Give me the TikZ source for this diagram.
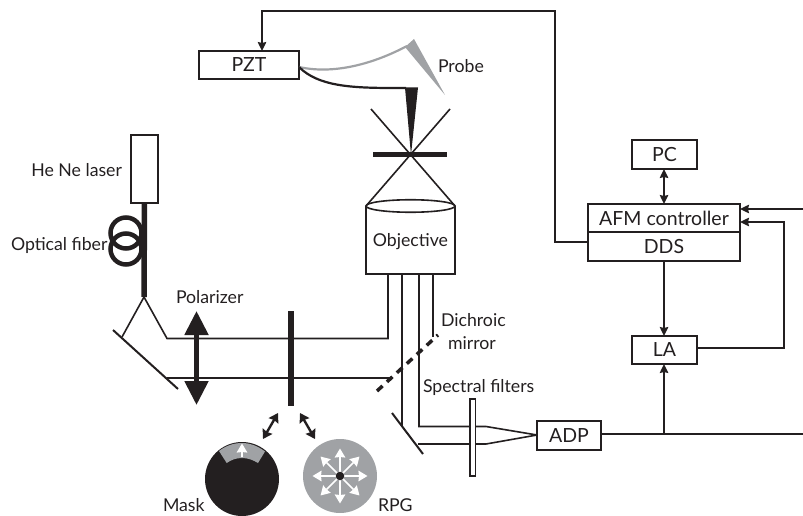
\documentclass[tikz,border=0pt]{standalone}
\usepackage{fontspec}
\setmainfont{Lato}
\usetikzlibrary{arrows.meta,calc,shapes.geometric}
\definecolor{ink}{HTML}{231F20}
\definecolor{midgray}{HTML}{A0A2A5}
\tikzset{
  boxnode/.style={draw=ink,line width=1.6pt,fill=white,inner sep=0pt,outer sep=0pt,text=ink,font=\fontsize{19.5}{22}\selectfont},
  lbl/.style={inner sep=0pt,outer sep=0pt,text=ink,font=\fontsize{17.7}{20}\selectfont},
  wire/.style={draw=ink,line width=1.6pt},
  sig/.style={wire,-{Stealth[length=9pt,width=8.5pt,inset=1pt]}},
  sigboth/.style={wire,{Stealth[length=9pt,width=8.5pt,inset=1pt]}-{Stealth[length=9pt,width=8.5pt,inset=1pt]}},
  dbl/.style={draw=ink,line width=2.4pt,{Stealth[length=9pt,width=11pt,inset=1pt]}-{Stealth[length=9pt,width=11pt,inset=1pt]}},
  wht/.style={draw=white,line width=1.5pt,-{Stealth[length=9pt,width=10.5pt,inset=0.5pt]}},
  thickbar/.style={draw=ink,line width=5.5pt}
}
\begin{document}
\begin{tikzpicture}[x=1pt,y=-1pt]
\useasboundingbox (0,0) rectangle (803,516);
% optical fibre behind laser
\coordinate (fiberend) at (144,297);
% boxes
\node[boxnode,minimum width=27pt,minimum height=68pt] (laser) at (144.5,169) {};
\node[boxnode,minimum width=100pt,minimum height=28pt] (pzt) at (249,65) {PZT};
\node[boxnode,minimum width=65pt,minimum height=29pt] (pc) at (664.5,154.5) {PC};
\node[boxnode,minimum width=152pt,minimum height=28pt] (afm) at (664,218) {AFM controller};
\node[boxnode,minimum width=152pt,minimum height=29pt] (dds) at (664,246.5) {DDS};
\node[boxnode,minimum width=65pt,minimum height=28pt] (la) at (664.5,350) {LA};
\node[boxnode,minimum width=64pt,minimum height=29pt] (adp) at (569,435.5) {ADP};
% objective
\coordinate (objtl) at (366,206);
\coordinate (objtr) at (455,206);
\coordinate (objbr) at (455,274);
\coordinate (objbl) at (366,274);
\draw[wire,fill=white] (objtl) -- (objbl) -- (objbr) -- (objtr);
\node[draw=ink,line width=1.6pt,ellipse,minimum width=89pt,minimum height=12.5pt,inner sep=0pt,outer sep=0pt] (lens) at (410.5,206) {};
\node[lbl] (objective) at (410.5,242) {Objective};
% focus cross
\coordinate (cr1) at (371,109);
\coordinate (cr2) at (450,109);
\draw[wire] (cr1) -- (objtr);
\draw[wire] (cr2) -- (objtl);
\coordinate (sl) at (373,154.5);
\coordinate (sr) at (447,154.5);
\draw[draw=ink,line width=4pt] (sl) -- (sr);
% probes
\coordinate (pa) at (299,67);
\fill[midgray] (414,39) -- (405,47) -- (445,95) -- cycle;
\draw[midgray,line width=2.2pt] (pa) .. controls (335,75) and (375,63) .. (407,46);
\draw[ink,line width=2.2pt] (pa) .. controls (318,86) and (350,88) .. (394,88) -- (406,88);
\fill[ink] (405,87.5) -- (418,87.5) -- (411,155) -- cycle;
% laser fork and beams
\coordinate (fl) at (122,337);
\coordinate (fr) at (167,338.5);
\coordinate (m1a) at (113,330);
\coordinate (m1b) at (178,389);
\draw[wire] (fl) -- (fiberend) -- (fr) -- (388,338.5) -- (388,274);
\draw[wire] (167,378) -- (390,378);
\draw[draw=ink,line width=2pt] (m1a) -- (m1b);
% beams from objective
\coordinate (m2a) at (392,413);
\coordinate (m2b) at (423,454);
\coordinate (focus) at (537,435);
\draw[wire] (402,274) -- (402,426);
\draw[wire] (419,274) -- (419,426.5) -- (486,426.5) -- (focus);
\draw[wire] (418,444) -- (486,444) -- (focus);
\draw[wire] (433,274) -- (433,337);
\draw[draw=ink,line width=2pt] (m2a) -- (m2b);
\node[draw=ink,line width=1.5pt,fill=white,inner sep=0pt,outer sep=0pt,minimum width=5.5pt,minimum height=77pt] (filter) at (472.5,437.5) {};
% dichroic
\coordinate (da) at (377,391);
\coordinate (db) at (438,335);
\draw[draw=ink,line width=3.5pt,dash pattern=on 7.5pt off 6pt] (da) -- (db);
% polarizer + bar
\coordinate (poltop) at (196.5,311);
\coordinate (polbot) at (196.5,405);
\draw[draw=ink,line width=5pt,{Triangle[length=24pt,width=23pt]}-{Triangle[length=24pt,width=23pt]}] (poltop) -- (polbot);
\coordinate (bartop) at (291,311);
\coordinate (barbot) at (291,406);
\draw[thickbar] (bartop) -- (barbot);
% double arrows
\coordinate (d1a) at (278,413);
\coordinate (d1b) at (263,439);
\coordinate (d2a) at (300,413);
\coordinate (d2b) at (315,439);
\draw[dbl] (d1a) -- (d1b);
\draw[dbl] (d2a) -- (d2b);
% mask
\node[circle,fill=ink,minimum size=74pt,inner sep=0pt,outer sep=0pt] (mask) at (242,479) {};
\fill[midgray] (219,451) .. controls (226,445.5) and (234,443) .. (242,443) .. controls (250,443) and (258,446) .. (265,451.5) -- (258,463) .. controls (253,460) and (248,458) .. (242,458) .. controls (236,458) and (231,460) .. (226.7,463) -- cycle;
\coordinate (mka) at (242,457);
\coordinate (mkb) at (242,443.5);
\draw[wht] (mka) -- (mkb);
% RPG
\node[circle,fill=midgray,minimum size=74pt,inner sep=0pt,outer sep=0pt] (rpg) at (340,476) {};
\foreach \a in {0,45,...,315}{
  \draw[wht] (rpg.center) -- ($(rpg.center)+(\a:27.5)$);
}
\node[circle,fill=ink,minimum size=8.5pt,inner sep=0pt,outer sep=0pt] (rpgdot) at (rpg.center) {};
% controller wiring
\coordinate (tl) at (262,11);
\coordinate (tr) at (555,11);
\draw[sig] ([yshift=4.5pt]dds.west) -- (555,242) -- (tr) -- (tl) -- (pzt.north -| tl);
\draw[sigboth] (pc.south -| afm.north) -- (afm.north);
\draw[sig] (dds.south) -- (la.north -| dds.south);
\coordinate (j) at (664,434);
\coordinate (e1) at (803,434);
\coordinate (e2) at (803,209);
\coordinate (c1) at (784,348);
\coordinate (c2) at (784,222);
\draw[wire] (adp.east |- j) -- (e1);
\draw[sig] (j) -- (la.south -| j);
\draw[sig] (e2) -- (afm.east |- e2);
\draw[sig] (la.east |- c1) -- (c1) -- (c2) -- (afm.east |- c2);
% labels
\node[lbl,anchor=east] (t1) at (122,170) {He Ne laser};
\node[lbl,anchor=west] (t2) at (11,245) {Optical fiber};
\node[lbl,anchor=west] (t3) at (176,297) {Polarizer};
\node[lbl,anchor=west] (t4) at (438,66) {Probe};
\node[lbl,anchor=west] (t5) at (441,320) {Dichroic};
\node[lbl,anchor=west] (t6) at (448,343) {mirror};
\node[lbl,anchor=west] (t7) at (423,387) {Spectral filters};
\node[lbl,anchor=west] (t8) at (163,505) {Mask};
\node[lbl,anchor=west] (t9) at (378,505) {RPG};
% fibre loops over the label end, as printed
\draw[ink,line width=4.5pt] (126,233) circle[radius=15.5pt];
\draw[ink,line width=4.5pt] (126,249) circle[radius=15.5pt];
\draw[ink,line width=5.5pt] (laser.south) -- (fiberend);
\end{tikzpicture}
\end{document}
